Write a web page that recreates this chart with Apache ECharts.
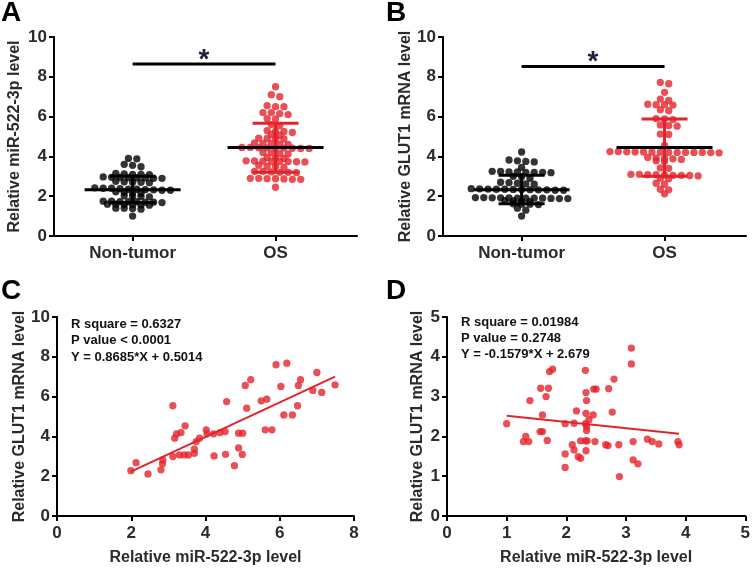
<!DOCTYPE html>
<html><head><meta charset="utf-8">
<script src="https://cdn.jsdelivr.net/npm/echarts@6/dist/echarts.min.js"></script>
<style>html,body{margin:0;padding:0;background:#fff}#c{width:753px;height:570px}</style>
</head><body><div id="c"></div>
<script>
// ---------- data ----------
const categories = ['Non-tumor', 'OS'];

const miRNonTumor = [3.9,3.88, 3.55,3.48,3.6, 3.1,3.12,3.15,3.1,3.08, 2.95,2.92,2.9,2.93,2.97,2.9,2.95,2.92,
  2.7,2.72,2.68,2.7,2.75, 2.42,2.4,2.35,2.38,2.3,2.32,2.35,2.3,2.4,2.33, 2.2,2.18,2.22,2.15,
  2.0,1.98,2.02,1.97, 1.72,1.75,1.7,1.73,1.72,1.7,1.75,1.68, 1.58,1.56,1.6,1.58,1.55,1.6,
  1.38,1.4,1.35,1.4, 1.0];
const miROS = [7.5, 7.0,7.1, 6.5,6.55,6.5, 6.2,6.1,6.15,6.2, 5.9,5.88, 5.55,5.6,5.25, 5.2,5.3,5.25, 5.05,5.1,
  4.9,4.92,4.88,4.9, 4.65,4.62,4.68,4.6,4.65, 4.42,4.45,4.4,4.43,4.44,4.4,4.42,4.45,4.41,
  4.15,4.2,4.12,4.18, 3.92,3.9,3.95, 3.75,3.78,3.72,3.75,3.77,3.74,3.76,3.73, 3.5,3.45,3.55,3.5,
  3.2,3.25,3.18,3.22,3.2,3.25, 2.88,2.85,2.9,2.87,2.85,2.9,2.88, 2.45];
const glutNonTumor = [4.22, 3.82,3.75,3.72,3.78, 3.45, 3.22,3.2,3.25,3.2,3.18,3.22,3.2,3.24, 2.98,2.9,3.0,
  2.65,2.7,2.62,2.68,2.6, 2.35,2.32,2.38,2.3,2.34,2.36,2.33,2.3,2.37,2.35,2.32,2.34,
  1.92,1.9,1.88,1.93,1.9,1.91,1.89,1.92,1.9,1.88,1.93,1.9, 1.75,1.78,1.72,1.76,
  1.6,1.58,1.62,1.6, 1.3,1.4, 1.0];
const glutOS = [7.72,7.65, 7.22, 6.88,6.82, 6.6,6.62,6.58,6.6, 6.3,6.35, 5.88,5.85,5.9, 5.55,5.58,5.52, 5.1,5.12, 4.55,
  4.22,4.2,4.24,4.2,4.22,4.18,4.2,4.23,4.21,4.2,4.19,4.22,4.2,4.24,
  3.92,3.88,3.9,3.85,3.95,3.78, 3.75, 3.42,3.4, 3.08,3.05,3.1,3.05,3.08,3.02,3.06,3.1,3.04,
  2.9,2.88, 2.65,2.6, 2.35,2.32, 2.12];

const miRMean = [2.32, 4.45], miRSdHigh = [3.0, 5.67], miRSdLow = [1.68, 3.2];
const glutMean = [2.32, 4.45], glutSdHigh = [3.05, 5.88], glutSdLow = [1.62, 3.0];
const sigLevelA = 8.64, sigLevelB = 8.52;

// panel C: OS miR-522-3p (x) vs GLUT1 (y)
const corrCX = [1.99,2.13,2.45,2.80,2.84,2.85,3.12,3.12,3.17,3.22,3.34,3.45,3.30,3.43,3.54,3.70,3.70,3.75,3.84,
  4.02,4.04,4.22,4.39,4.53,4.23,4.57,4.54,4.78,4.89,4.89,5.00,4.99,5.07,5.11,5.22,5.50,5.65,5.61,5.79,
  5.90,6.03,6.11,6.19,6.34,6.50,6.48,6.56,6.89,7.00,7.13,7.49];
const corrCY = [2.28,2.68,2.11,2.32,2.62,2.82,2.99,5.54,3.91,4.13,4.19,4.53,3.07,3.07,3.07,3.15,3.36,3.74,3.91,
  4.33,4.13,4.13,4.19,4.24,3.02,5.75,3.10,2.53,3.42,4.16,4.16,3.09,6.56,5.42,6.85,5.79,5.87,4.33,4.33,
  7.60,6.51,5.08,7.68,5.08,6.56,5.54,6.85,6.31,7.21,6.21,6.59];
// panel D: non-tumor miR-522-3p (x) vs GLUT1 (y)
const corrDX = [1.00,1.28,1.32,1.37,1.39,1.57,1.60,1.56,1.60,1.66,1.70,1.68,1.72,1.77,1.98,1.98,1.98,2.10,2.13,2.13,
  2.17,2.20,2.24,2.24,2.32,2.33,2.34,2.33,2.32,2.34,2.34,2.38,2.32,2.35,2.33,2.45,2.46,2.50,2.48,2.66,2.70,
  2.71,2.77,2.80,2.88,2.89,3.09,3.09,3.12,3.12,3.20,3.36,3.44,3.55,3.87,3.89];
const corrDY = [2.32,1.87,2.00,1.87,2.90,3.21,2.54,2.12,2.12,3.00,3.21,1.90,3.63,3.69,2.32,1.56,1.22,1.79,2.33,1.66,
  2.64,1.49,1.45,1.89,3.66,3.10,2.90,2.58,2.32,2.25,2.15,2.42,1.89,1.89,1.64,2.54,3.19,3.19,1.87,1.79,1.77,
  3.20,2.61,3.44,1.79,0.99,4.22,3.82,1.87,1.41,1.31,1.93,1.87,1.81,1.87,1.79];

const fitC = {slope: 0.8685, intercept: 0.5014};
const fitD = {slope: -0.1579, intercept: 2.679};
const statsC = ['R square = 0.6327', 'P value < 0.0001', 'Y = 0.8685*X + 0.5014'];
const statsD = ['R square = 0.01984', 'P value = 0.2748', 'Y = -0.1579*X + 2.679'];
const yTitleA = 'Relative miR-522-3p level';
const yTitleB = 'Relative GLUT1 mRNA level';
const xTitleCD = 'Relative miR-522-3p level';
const panelLetters = ['A', 'B', 'C', 'D'];

// ---------- style ----------
const RED = '#e3232b';
const FONT = "'Liberation Sans', Arial, sans-serif";
const TXT = '#2b2b2b';

const grids = [
  {left: 54, top: 37, width: 303, height: 199},
  {left: 443, top: 37, width: 303, height: 199},
  {left: 57, top: 317, width: 297, height: 199},
  {left: 447, top: 317, width: 299, height: 199}
];
const XMIN = -0.55, XMAX = 1.57;

// scatter-dot-plot layout: values grouped into horizontal rows, each row centred on its
// category; a row is nudged half a step sideways when that avoids overlapping the rows above
function swarm(values, g, grid, yMax) {
  const pxX = grid.width / (XMAX - XMIN);
  const pxY = grid.height / yMax;
  const ROW = 0.13, STEP = 8.4, DIAM = 7.2;
  const sorted = values.slice().sort((a, b) => b - a);
  const rows = [];
  for (const v of sorted) {
    const r = rows[rows.length - 1];
    if (r && r[0] - v < ROW) r.push(v); else rows.push([v]);
  }
  const placed = [], out = [];
  rows.forEach(r => {
    const n = r.length;
    let best = null, bestHits = Infinity;
    for (const shift of [0, STEP / 2, -STEP / 2]) {
      const cand = r.map((v, j) => [(j - (n - 1) / 2) * STEP + shift, v * pxY]);
      let hits = 0;
      cand.forEach(c => placed.forEach(p => { const d = Math.hypot(c[0] - p[0], c[1] - p[1]); if (d < DIAM) hits += DIAM - d; }));
      if (hits < bestHits - 0.01) { bestHits = hits; best = cand; }
    }
    best.forEach((c, j) => { placed.push(c); out.push([g + c[0] / pxX, r[j]]); });
  });
  return out;
}

function axisLabelStyle(extra) {
  return Object.assign({color: TXT, fontFamily: FONT, fontWeight: 'bold', fontSize: 17, margin: 7}, extra || {});
}
const axisLineStyle = {show: true, onZero: false, lineStyle: {color: '#000', width: 2}};
const tickStyle = {show: true, length: 5, lineStyle: {color: '#000', width: 2}};
const nameStyle = {color: TXT, fontFamily: FONT, fontWeight: 'bold', fontSize: 16};

function catX(idx) {
  return {
    type: 'value', gridIndex: idx, min: XMIN, max: XMAX,
    axisLine: axisLineStyle, splitLine: {show: false},
    axisTick: Object.assign({customValues: [0, 1]}, tickStyle),
    axisLabel: axisLabelStyle({customValues: [0, 1], margin: 9, formatter: v => categories[Math.round(v)]})
  };
}
function valY(idx, max, interval, name, gap) {
  return {
    type: 'value', gridIndex: idx, min: 0, max: max, interval: interval,
    axisLine: axisLineStyle, splitLine: {show: false}, axisTick: tickStyle,
    axisLabel: axisLabelStyle(),
    name: name, nameLocation: 'middle', nameGap: gap, nameTextStyle: nameStyle
  };
}
function valX(idx, max, interval, name) {
  return {
    type: 'value', gridIndex: idx, min: 0, max: max, interval: interval,
    axisLine: axisLineStyle, splitLine: {show: false}, axisTick: tickStyle,
    axisLabel: axisLabelStyle({margin: 9}),
    name: name, nameLocation: 'middle', nameGap: 34, nameTextStyle: nameStyle
  };
}

function errorBars(ax, mean, lo, hi) {
  return {
    type: 'custom', xAxisIndex: ax, yAxisIndex: ax, z: 5, silent: true,
    data: categories.map((c, i) => [i, mean[i], lo[i], hi[i]]),
    renderItem: (params, api) => {
      const i = api.value(0);
      const m = api.coord([i, api.value(1)]);
      const l = api.coord([i, api.value(2)]);
      const h = api.coord([i, api.value(3)]);
      const col = i === 0 ? '#000' : RED;
      const lw = 3;
      return {type: 'group', children: [
        {type: 'line', shape: {x1: h[0], y1: h[1], x2: l[0], y2: l[1]}, style: {stroke: col, lineWidth: lw}},
        {type: 'line', shape: {x1: h[0] - 23, y1: h[1], x2: h[0] + 23, y2: h[1]}, style: {stroke: col, lineWidth: lw}},
        {type: 'line', shape: {x1: l[0] - 23, y1: l[1], x2: l[0] + 23, y2: l[1]}, style: {stroke: col, lineWidth: lw}},
        {type: 'line', shape: {x1: m[0] - 48, y1: m[1], x2: m[0] + 48, y2: m[1]}, style: {stroke: '#000', lineWidth: lw}}
      ]};
    }
  };
}
function sigBar(ax, level) {
  return {
    type: 'custom', xAxisIndex: ax, yAxisIndex: ax, z: 5, silent: true,
    data: [[0, 1, level]],
    renderItem: (params, api) => {
      const a = api.coord([api.value(0), api.value(2)]);
      const b = api.coord([api.value(1), api.value(2)]);
      return {type: 'group', children: [
        {type: 'line', shape: {x1: a[0], y1: a[1], x2: b[0], y2: b[1]}, style: {stroke: '#000', lineWidth: 3}},
        {type: 'text', style: {x: (a[0] + b[0]) / 2, y: a[1] + 10, text: '*', fill: '#20203a',
          font: 'bold 28px ' + FONT, textAlign: 'center', textVerticalAlign: 'bottom'}}
      ]};
    }
  };
}
function fitLine(ax, xs, fit) {
  const x0 = Math.min(...xs), x1 = Math.max(...xs);
  return {
    type: 'line', xAxisIndex: ax, yAxisIndex: ax, symbol: 'none', silent: true, z: 3,
    lineStyle: {color: RED, width: 2},
    data: [[x0, fit.slope * x0 + fit.intercept], [x1, fit.slope * x1 + fit.intercept]]
  };
}
function dots(ax, data, color) {
  return {type: 'scatter', xAxisIndex: ax, yAxisIndex: ax, symbol: 'circle', symbolSize: 7.3,
    itemStyle: {color: color}, data: data, silent: true, z: 2};
}

const option = {
  backgroundColor: '#fff',
  animation: false,
  grid: grids,
  xAxis: [catX(0), catX(1), valX(2, 8, 2, xTitleCD), valX(3, 5, 1, xTitleCD)],
  yAxis: [valY(0, 10, 2, yTitleA, 31), valY(1, 10, 2, yTitleB, 25), valY(2, 10, 2, yTitleB, 29), valY(3, 5, 1, yTitleB, 21)],
  series: [
    dots(0, swarm(miRNonTumor, 0, grids[0], 10), '#000'),
    dots(0, swarm(miROS, 1, grids[0], 10), RED),
    errorBars(0, miRMean, miRSdLow, miRSdHigh),
    sigBar(0, sigLevelA),
    dots(1, swarm(glutNonTumor, 0, grids[1], 10), '#000'),
    dots(1, swarm(glutOS, 1, grids[1], 10), RED),
    errorBars(1, glutMean, glutSdLow, glutSdHigh),
    sigBar(1, sigLevelB),
    dots(2, corrCX.map((x, i) => [x, corrCY[i]]), RED),
    fitLine(2, corrCX, fitC),
    dots(3, corrDX.map((x, i) => [x, corrDY[i]]), RED),
    fitLine(3, corrDX, fitD)
  ],
  graphic: [
    {type: 'text', left: 1, top: -1, style: {text: panelLetters[0], font: 'bold 28px ' + FONT, fill: '#000'}},
    {type: 'text', left: 386, top: -1, style: {text: panelLetters[1], font: 'bold 28px ' + FONT, fill: '#000'}},
    {type: 'text', left: 1, top: 277, style: {text: panelLetters[2], font: 'bold 28px ' + FONT, fill: '#000'}},
    {type: 'text', left: 386, top: 277, style: {text: panelLetters[3], font: 'bold 28px ' + FONT, fill: '#000'}},
    {type: 'text', left: 71, top: 316, style: {text: statsC.join('\n'), font: 'bold 13px ' + FONT, lineHeight: 16.5, fill: '#111'}},
    {type: 'text', left: 461, top: 315, style: {text: statsD.join('\n'), font: 'bold 13px ' + FONT, lineHeight: 15.8, fill: '#111'}}
  ]
};
const chart = echarts.init(document.getElementById('c'), null, {renderer: 'canvas'});
chart.setOption(option);
</script>
</body></html>
